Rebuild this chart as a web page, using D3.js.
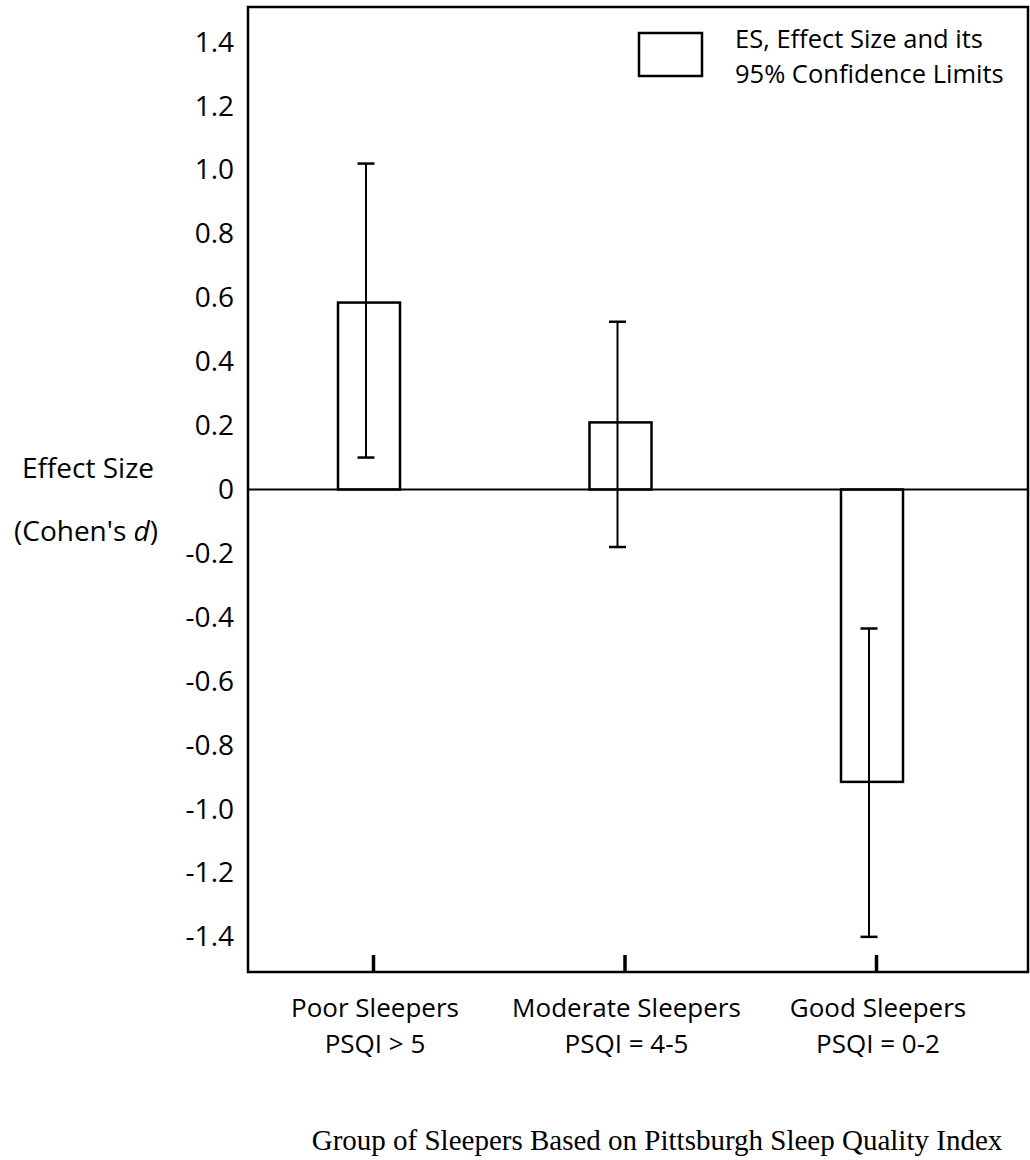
<!DOCTYPE html>
<html>
<head>
<meta charset="utf-8">
<script src="https://cdn.jsdelivr.net/npm/d3@7"></script>
<style>
  body { margin: 0; background: #fff; }
  svg text { font-family: "Open Sans", "DejaVu Sans", sans-serif; fill: #000; }
</style>
</head>
<body>
<div id="chart"></div>
<script>
// values (Cohen's d)
const groups = ["Poor Sleepers", "Moderate Sleepers", "Good Sleepers"];
const groupCriteria = ["PSQI > 5", "PSQI = 4-5", "PSQI = 0-2"];
const effectSizes = [0.585, 0.21, -0.915];
const lowerLimits = [0.10, -0.18, -1.40];
const upperLimits = [1.02, 0.525, -0.435];
const yTicks = [1.4, 1.2, 1.0, 0.8, 0.6, 0.4, 0.2, 0, -0.2, -0.4, -0.6, -0.8, -1.0, -1.2, -1.4];

const w = 1030;
const h = 1160;
const frame = { left: 248, top: 7, right: 1028, bottom: 972 };
const fontSize = 28;

const svg = d3
  .select("#chart")
  .append("svg")
  .attr("width", w)
  .attr("height", h);

const yScale = d3
  .scaleLinear()
  .domain([-1.51, 1.51])
  .range([frame.bottom, frame.top]);

const xScale = d3.scalePoint().domain(groups).range([369, 872]);

const rows = groups.map((g, i) => ({
  group: g,
  criteria: groupCriteria[i],
  es: effectSizes[i],
  lo: lowerLimits[i],
  hi: upperLimits[i],
}));

const barWidth = 62;
const capWidth = 17;

// zero line
svg
  .append("line")
  .attr("x1", frame.left)
  .attr("x2", frame.right)
  .attr("y1", yScale(0))
  .attr("y2", yScale(0))
  .attr("stroke", "#000")
  .attr("stroke-width", 2);

// bars
svg
  .selectAll("rect.bar")
  .data(rows)
  .enter()
  .append("rect")
  .attr("class", "bar")
  .attr("x", (d) => xScale(d.group) - barWidth / 2)
  .attr("y", (d) => yScale(Math.max(0, d.es)))
  .attr("width", barWidth)
  .attr("height", (d) => Math.abs(yScale(d.es) - yScale(0)))
  .attr("fill", "none")
  .attr("stroke", "#000")
  .attr("stroke-width", 2.5);

// confidence limits
const errX = (d) => xScale(d.group) - 3;
svg
  .selectAll("line.err")
  .data(rows)
  .enter()
  .append("line")
  .attr("class", "err")
  .attr("x1", errX)
  .attr("x2", errX)
  .attr("y1", (d) => yScale(d.hi))
  .attr("y2", (d) => yScale(d.lo))
  .attr("stroke", "#000")
  .attr("stroke-width", 2);

["hi", "lo"].forEach((k) => {
  svg
    .selectAll("line.cap-" + k)
    .data(rows)
    .enter()
    .append("line")
    .attr("class", "cap-" + k)
    .attr("x1", (d) => errX(d) - capWidth / 2)
    .attr("x2", (d) => errX(d) + capWidth / 2)
    .attr("y1", (d) => yScale(d[k]))
    .attr("y2", (d) => yScale(d[k]))
    .attr("stroke", "#000")
    .attr("stroke-width", 2.5);
});

// frame
svg
  .append("rect")
  .attr("x", frame.left)
  .attr("y", frame.top)
  .attr("width", frame.right - frame.left)
  .attr("height", frame.bottom - frame.top)
  .attr("fill", "none")
  .attr("stroke", "#000")
  .attr("stroke-width", 2.5);

// y axis: labels only, plain hyphen for negatives
const yAxis = d3
  .axisLeft(yScale)
  .tickValues(yTicks)
  .tickSize(0)
  .tickPadding(14)
  .tickFormat((d) => (d === 0 ? "0" : d.toFixed(1)));
svg
  .append("g")
  .attr("id", "y-axis")
  .attr("transform", `translate(${frame.left},0)`)
  .call(yAxis)
  .call((g) => g.select(".domain").remove())
  .call((g) =>
    g.selectAll("text").attr("font-size", fontSize).attr("font-family", null)
  );

// x axis: short thick ticks inside the frame
const xAxis = d3.axisTop(xScale).tickSize(17).tickFormat("");
svg
  .append("g")
  .attr("id", "x-axis")
  .attr("transform", `translate(4,${frame.bottom})`)
  .call(xAxis)
  .call((g) => g.select(".domain").remove())
  .call((g) => g.selectAll("line").attr("stroke-width", 3.5));

const xLabels = svg
  .selectAll("text.xlab")
  .data(rows)
  .enter()
  .append("text")
  .attr("class", "xlab")
  .attr("text-anchor", "middle")
  .attr("font-size", 26)
  .attr("x", (d) => xScale(d.group) + 6);
xLabels.append("tspan").attr("y", 1017).text((d) => d.group);
xLabels
  .append("tspan")
  .attr("x", (d) => xScale(d.group) + 6)
  .attr("y", 1053)
  .text((d) => d.criteria);

// y label
svg
  .append("text")
  .attr("x", 88)
  .attr("y", 478)
  .attr("text-anchor", "middle")
  .attr("font-size", fontSize)
  .text("Effect Size");
const cohen = svg
  .append("text")
  .attr("x", 86)
  .attr("y", 541)
  .attr("text-anchor", "middle")
  .attr("font-size", fontSize);
cohen.append("tspan").text("(Cohen's ");
cohen.append("tspan").attr("font-style", "italic").text("d");
cohen.append("tspan").text(")");

// legend
svg
  .append("rect")
  .attr("x", 639)
  .attr("y", 33)
  .attr("width", 63)
  .attr("height", 43)
  .attr("fill", "none")
  .attr("stroke", "#000")
  .attr("stroke-width", 2.5);
svg
  .append("text")
  .attr("x", 735)
  .attr("y", 48)
  .attr("font-size", 25.5)
  .text("ES, Effect Size and its");
svg
  .append("text")
  .attr("x", 735)
  .attr("y", 83)
  .attr("font-size", 25.5)
  .text("95% Confidence Limits");

// x title
svg
  .append("text")
  .attr("x", 657)
  .attr("y", 1150)
  .attr("text-anchor", "middle")
  .attr("font-size", 29)
  .style("font-family", "'Liberation Serif', 'Times New Roman', serif")
  .text("Group of Sleepers Based on Pittsburgh Sleep Quality Index");
</script>
</body>
</html>
